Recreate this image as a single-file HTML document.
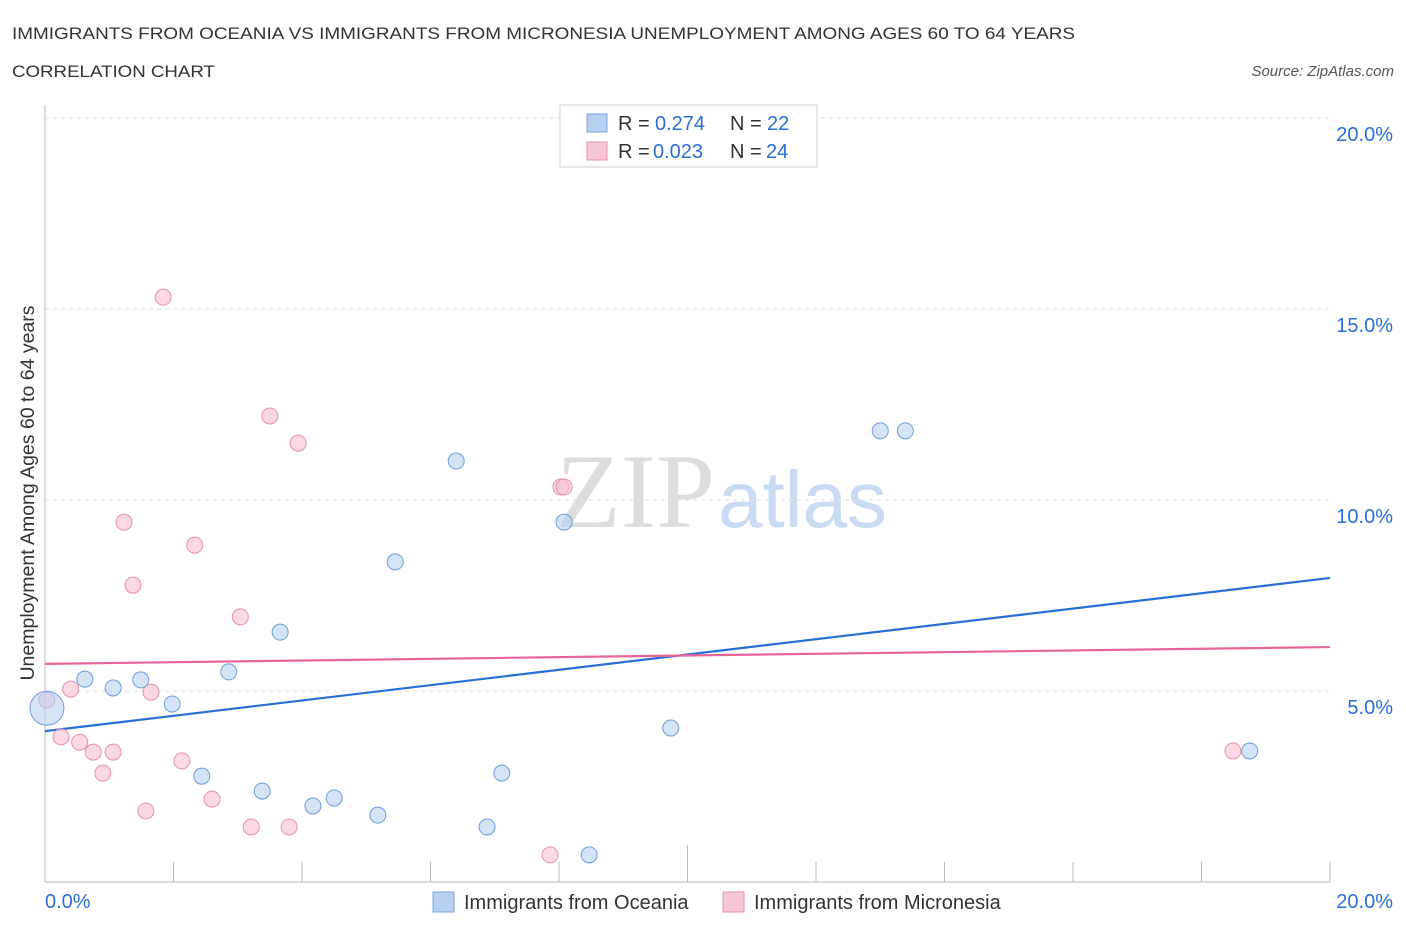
<!DOCTYPE html>
<html><head><meta charset="utf-8">
<style>
body{margin:0;background:#fff;font-family:"Liberation Sans",sans-serif;}
svg text{font-family:"Liberation Sans",sans-serif;}
</style></head>
<body>
<svg width="1406" height="930" viewBox="0 0 1406 930">
<text x="12" y="39" font-size="17" fill="#333" textLength="1063" lengthAdjust="spacingAndGlyphs">IMMIGRANTS FROM OCEANIA VS IMMIGRANTS FROM MICRONESIA UNEMPLOYMENT AMONG AGES 60 TO 64 YEARS</text>
<text x="12" y="77" font-size="17" fill="#333" textLength="203" lengthAdjust="spacingAndGlyphs">CORRELATION CHART</text>
<text x="1394" y="76" font-size="15" fill="#555" font-style="italic" text-anchor="end">Source: ZipAtlas.com</text>
<g>
<text x="715" y="527" font-size="106" fill="#ddd" text-anchor="end" style="font-family:'Liberation Serif',serif">ZIP</text>
<text x="718" y="527" font-size="80" fill="#c9dbf3">atlas</text>
</g>
<g id="grid"></g>
<g id="axes"></g>
<g id="lines"></g>
<g id="pts"></g>
<g>
<rect x="560" y="105" width="257" height="62" fill="#fff" stroke="#ccc"/>
<rect x="587" y="114" width="20" height="18" fill="#b8d0f0" stroke="#7aa6e0"/>
<text x="618" y="130" font-size="20" fill="#333">R =</text>
<text x="655" y="130" font-size="20" fill="#2a6fd6">0.274</text>
<text x="730" y="130" font-size="20" fill="#333">N =</text>
<text x="767" y="130" font-size="20" fill="#2a6fd6">22</text>
<rect x="587" y="142" width="20" height="18" fill="#f7c6d4" stroke="#e890ad"/>
<text x="618" y="158" font-size="20" fill="#333">R =</text>
<text x="653" y="158" font-size="20" fill="#2a6fd6">0.023</text>
<text x="730" y="158" font-size="20" fill="#333">N =</text>
<text x="766" y="158" font-size="20" fill="#2a6fd6">24</text>
</g>
<g>
<rect x="433" y="892" width="21" height="20" fill="#b8d0f0" stroke="#7aa6e0"/>
<text x="464" y="909" font-size="20" fill="#333">Immigrants from Oceania</text>
<rect x="723" y="892" width="21" height="20" fill="#f7c6d4" stroke="#e890ad"/>
<text x="754" y="909" font-size="20" fill="#333">Immigrants from Micronesia</text>
</g>
<text x="34" y="493" font-size="19.5" fill="#333" text-anchor="middle" transform="rotate(-90 34 493)">Unemployment Among Ages 60 to 64 years</text>
</svg>
<script>
const yTicks=[5,10,15,20];
const yTickLabels=["5.0%","10.0%","15.0%","20.0%"];
const xTickLabels=["0.0%","20.0%"];
const oceaniaX=[0.03,0.62,1.06,1.49,1.98,2.44,2.86,3.38,3.66,4.17,4.50,5.18,5.45,6.40,6.88,7.11,8.08,8.47,9.74,13.00,13.39,18.75];
const oceaniaY=[4.55,5.31,5.08,5.29,4.66,2.77,5.50,2.38,6.54,1.99,2.20,1.75,8.38,11.02,1.44,2.85,9.42,0.71,4.03,11.81,11.81,3.43];
const micronesiaX=[0.03,0.25,0.40,0.54,0.75,0.90,1.06,1.23,1.37,1.57,1.65,1.84,2.13,2.33,2.60,3.04,3.21,3.50,3.80,3.94,7.86,8.03,8.08,18.49];
const micronesiaY=[4.76,3.80,5.05,3.66,3.40,2.85,3.40,9.42,7.77,1.86,4.97,15.31,3.17,8.82,2.17,6.94,1.44,12.20,1.44,11.49,0.71,10.34,10.34,3.43];
const oceaniaTrend=[3.95,7.96];
const micronesiaTrend=[5.71,6.15];
const NS="http://www.w3.org/2000/svg";
const X=v=>45+v/20*1285, Y=v=>882-v/5*191;
function mk(t,a,p){const e=document.createElementNS(NS,t);for(const k in a)e.setAttribute(k,a[k]);p.appendChild(e);return e;}
const grid=document.getElementById('grid'),axes=document.getElementById('axes');
yTicks.forEach((t,i)=>{
 const l=mk('line',{x1:45,x2:1330,y1:Y(t),y2:Y(t),stroke:'#e2e2e2','stroke-dasharray':'4,4'},grid);
 
 
 const tx=mk('text',{x:1393,y:Y(t)+23,'font-size':20,fill:'#2a6fd6','text-anchor':'end'},axes);
 tx.textContent=yTickLabels[i];
 
 
});
mk('line',{x1:45,x2:45,y1:105,y2:882,stroke:'#bbb'},axes);
mk('line',{x1:45,x2:1330,y1:882,y2:882,stroke:'#bbb'},axes);
for(let i=0;i<=10;i++){const x=X(i*2);mk('line',{x1:x,x2:x,y1:i==5?845:862,y2:882,stroke:'#bbb'},axes);}
const xl0=mk('text',{x:45,y:908,'font-size':20,fill:'#2a6fd6'},axes);xl0.textContent=xTickLabels[0];


const xl1=mk('text',{x:1393,y:908,'font-size':20,fill:'#2a6fd6','text-anchor':'end'},axes);xl1.textContent=xTickLabels[1];


const pts=document.getElementById('pts');
function series(xs,ys,fill,stroke,name){xs.forEach((v,i)=>{
 const big=(name==='oceania-point'&&i===0);
 const c=mk('circle',{cx:X(v),cy:Y(ys[i]),r:big?17:8,fill:fill,'fill-opacity':0.6,stroke:stroke,'stroke-width':1},pts);
 
 
});}
series(micronesiaX,micronesiaY,'#f7c0d0','#e890ad','micronesia-point');
series(oceaniaX,oceaniaY,'#b8d0f0','#6e9ddc','oceania-point');
const lines=document.getElementById('lines');
const bl=mk('line',{x1:X(0),x2:X(20),y1:Y(oceaniaTrend[0]),y2:Y(oceaniaTrend[1]),stroke:'#2a6fd6','stroke-width':2.2},lines);


const pl=mk('line',{x1:X(0),x2:X(20),y1:Y(micronesiaTrend[0]),y2:Y(micronesiaTrend[1]),stroke:'#e8649a','stroke-width':2.2},lines);


</script>
</body></html>
